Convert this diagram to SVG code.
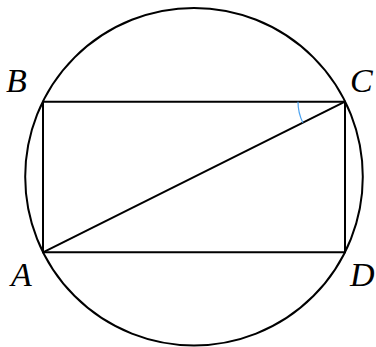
<svg xmlns="http://www.w3.org/2000/svg" width="376" height="347" viewBox="0 0 376 347">
<style>
.ln{fill:none;stroke:#000;stroke-width:2;stroke-linejoin:miter}
.lb{font-family:"Liberation Serif","DejaVu Serif",serif;font-style:italic;font-size:34px;fill:#000}
</style>
<rect width="376" height="347" fill="#fff"/>
<g id="connectors">
<circle class="ln" cx="194" cy="176.7" r="168.8"/>
<polygon class="ln" points="43,101.7 345,101.7 345,252.3 43,252.3"/>
<line class="ln" x1="43" y1="252.3" x2="345" y2="101.7"/>
<path d="M298,101.7 A47,47 0 0 0 302.9,122.7" fill="none" stroke="#4da3f0" stroke-width="1.2"/>
</g>
<g id="A"><text class="lb" x="11" y="286">A</text></g>
<g id="B"><text class="lb" x="6" y="92">B</text></g>
<g id="C"><text class="lb" x="350" y="92">C</text></g>
<g id="D"><text class="lb" x="350" y="286">D</text></g>
</svg>
